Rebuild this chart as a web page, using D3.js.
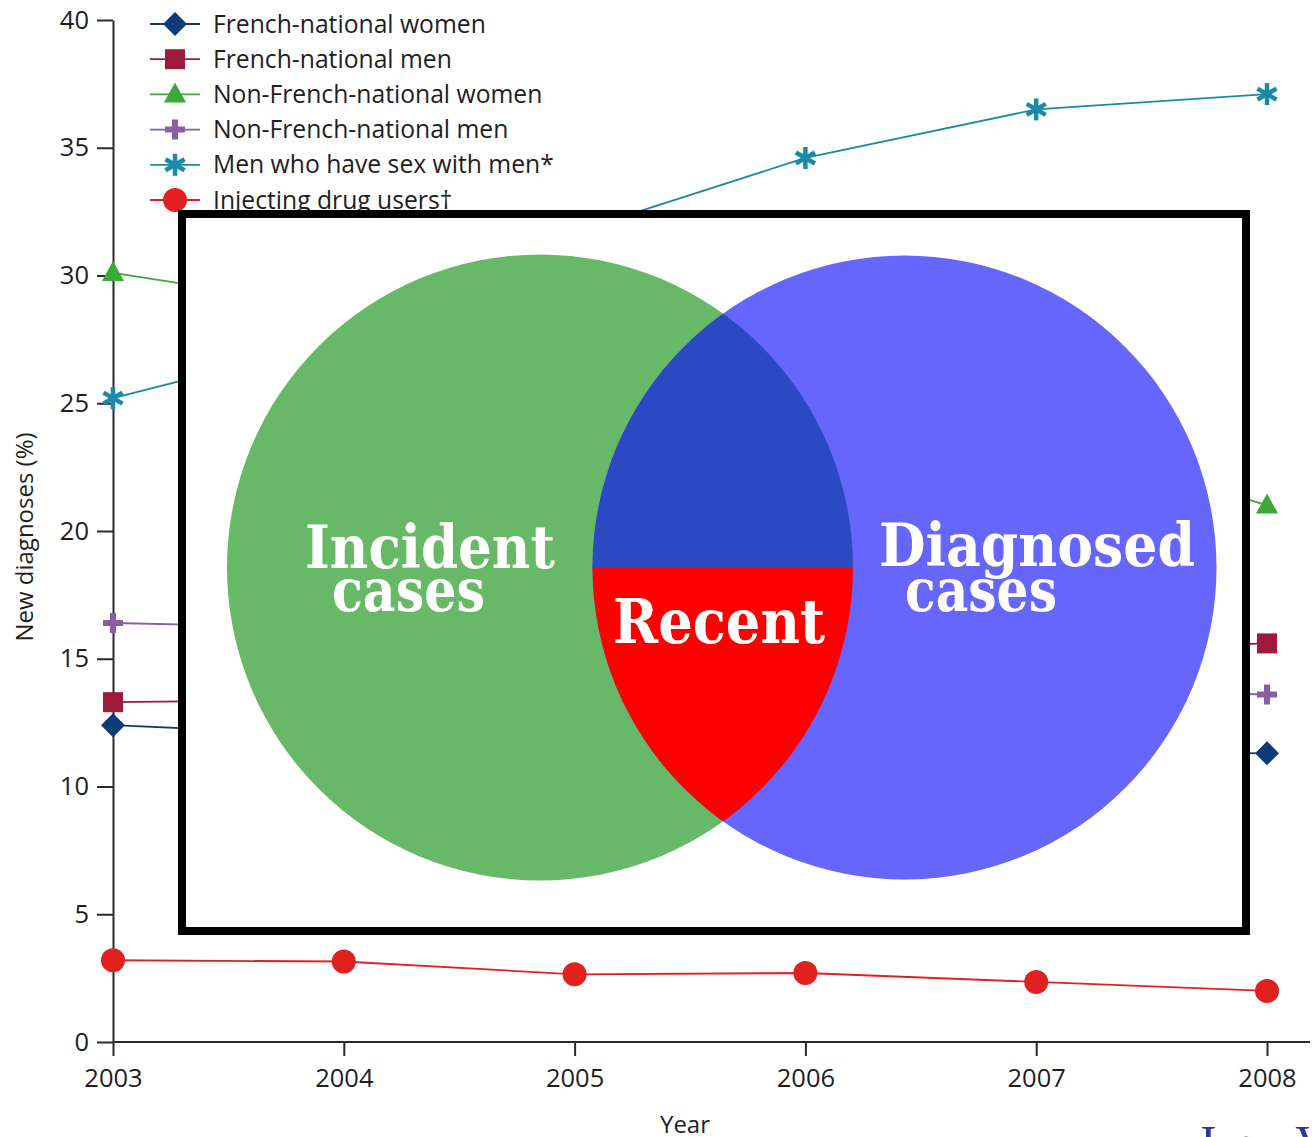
<!DOCTYPE html>
<html>
<head>
<meta charset="utf-8">
<script src="https://cdn.jsdelivr.net/npm/d3@7"></script>
<style>
  html, body { margin: 0; padding: 0; background: #fff; }
  svg { display: block; }
</style>
</head>
<body>
<script>
// ---- data ----
const years = [2003, 2004, 2005, 2006, 2007, 2008];
const frenchWomen    = [12.4, 12.0, 11.8, 11.6, 11.4, 11.3];
const frenchMen      = [13.3, 13.4, 14.0, 14.6, 15.3, 15.6];
const nonFrenchWomen = [30.1, 28.7, 26.5, 24.8, 23.8, 21.0];
const nonFrenchMen   = [16.4, 16.2, 15.6, 15.0, 13.8, 13.6];
const msm            = [25.2, 27.5, 31.7, 34.6, 36.5, 37.1];
const idu            = [3.2, 3.15, 2.65, 2.7, 2.35, 2.0];
const yTicks = [0, 5, 10, 15, 20, 25, 30, 35, 40];
const seriesNames = ["French-national women", "French-national men", "Non-French-national women",
                     "Non-French-national men", "Men who have sex with men*", "Injecting drug users\u2020"];
const seriesValues = [frenchWomen, frenchMen, nonFrenchWomen, nonFrenchMen, msm, idu];
const seriesColors = ["#0d3b7a", "#9e1a3a", "#3aa935", "#8a5ea5", "#1a8aa8", "#e0211f"];
const seriesMarkers = ["diamond", "square", "triangle", "plus", "asterisk", "circle"];
const vennLabels = { left: ["Incident", "cases"], right: ["Diagnosed", "cases"], middle: "Recent" };
const overlayText = "In V";

const W = 1312, H = 1137;
const svg = d3.select("body").append("svg").attr("width", W).attr("height", H);
const FONT = "'Open Sans', 'Noto Sans', sans-serif";
const TXT = "#1e1e1e";

const x = d3.scaleLinear().domain([2003, 2008]).range([113, 1267]);
const y = d3.scaleLinear().domain([0, 40]).range([1042, 20]);

// ---- axes ----
const yAxis = svg.append("g").attr("transform", `translate(${x(2003)},0)`)
  .call(d3.axisLeft(y).tickValues(yTicks).tickSize(16).tickPadding(8).tickSizeOuter(0));
yAxis.select(".domain").attr("stroke", "#2a2a2a").attr("stroke-width", 2);
yAxis.selectAll(".tick line").attr("stroke", "#2a2a2a").attr("stroke-width", 2);
yAxis.selectAll(".tick text").attr("font-family", FONT).attr("font-size", 25.5).attr("fill", TXT);

const xAxis = svg.append("g").attr("transform", `translate(0,${y(0)})`)
  .call(d3.axisBottom(x).tickValues(years).tickFormat(d3.format("d")).tickSize(14).tickPadding(13).tickSizeOuter(0));
xAxis.select(".domain").attr("d", `M${x(2003)},0H1310`).attr("stroke", "#2a2a2a").attr("stroke-width", 2);
xAxis.selectAll(".tick line").attr("stroke", "#2a2a2a").attr("stroke-width", 2);
xAxis.selectAll(".tick text").attr("font-family", FONT).attr("font-size", 25.5).attr("fill", TXT);

svg.append("text").attr("transform", "translate(33,537) rotate(-90)")
  .attr("text-anchor", "middle").attr("font-family", FONT).attr("font-size", 24).attr("fill", TXT)
  .text("New diagnoses (%)");
svg.append("text").attr("x", 685).attr("y", 1133).attr("text-anchor", "middle")
  .attr("font-family", FONT).attr("font-size", 24).attr("fill", TXT).text("Year");

// ---- markers ----
function drawMarker(g, type, color) {
  if (type === "diamond") {
    g.append("path").attr("d", "M0,-12L12,0L0,12L-12,0Z").attr("fill", color);
  } else if (type === "square") {
    g.append("rect").attr("x", -10).attr("y", -10).attr("width", 20).attr("height", 20).attr("fill", color);
  } else if (type === "triangle") {
    g.append("path").attr("d", "M0,-12L11,8L-11,8Z").attr("fill", color);
  } else if (type === "plus") {
    g.append("path").attr("d", "M-10,0H10M0,-10V10").attr("stroke", color).attr("stroke-width", 6);
  } else if (type === "asterisk") {
    [90, 30, 150].forEach(a => {
      const r = a * Math.PI / 180, dx = Math.cos(r) * 11, dy = Math.sin(r) * 11;
      g.append("line").attr("x1", -dx).attr("y1", -dy).attr("x2", dx).attr("y2", dy)
        .attr("stroke", color).attr("stroke-width", 4.5);
    });
  } else if (type === "circle") {
    g.append("circle").attr("r", 12).attr("fill", color);
  }
}

// ---- series ----
const line = d3.line().x((d, i) => x(years[i])).y(d => y(d));
seriesValues.forEach((vals, s) => {
  const g = svg.append("g");
  g.append("path").attr("d", line(vals)).attr("fill", "none")
    .attr("stroke", seriesColors[s]).attr("stroke-width", 1.8);
  vals.forEach((v, i) => {
    drawMarker(g.append("g").attr("transform", `translate(${x(years[i])},${y(v)})`), seriesMarkers[s], seriesColors[s]);
  });
});

// ---- legend ----
const legend = svg.append("g");
seriesNames.forEach((name, s) => {
  const ly = 24 + s * 35.2;
  const g = legend.append("g").attr("transform", `translate(0,${ly})`);
  g.append("line").attr("x1", 150).attr("x2", 200).attr("y1", 0).attr("y2", 0)
    .attr("stroke", seriesColors[s]).attr("stroke-width", 1.8);
  drawMarker(g.append("g").attr("transform", "translate(175,0)"), seriesMarkers[s], seriesColors[s]);
  g.append("text").attr("x", 213).attr("y", 8.5).attr("font-family", FONT).attr("font-size", 24.7)
    .attr("fill", TXT).text(name);
});

// ---- overlay box with Venn diagram ----
svg.append("rect").attr("x", 182).attr("y", 214).attr("width", 1064).attr("height", 717)
  .attr("fill", "#fff").attr("stroke", "#000").attr("stroke-width", 8);

const cL = { x: 540, y: 567.5, r: 313 }, cR = { x: 904.5, y: 567.5, r: 312 };
const defs = svg.append("defs");
defs.append("clipPath").attr("id", "clipL").append("circle").attr("cx", cL.x).attr("cy", cL.y).attr("r", cL.r);
defs.append("clipPath").attr("id", "clipR").append("circle").attr("cx", cR.x).attr("cy", cR.y).attr("r", cR.r);

svg.append("circle").attr("cx", cL.x).attr("cy", cL.y).attr("r", cL.r).attr("fill", "#67b967");
svg.append("circle").attr("cx", cR.x).attr("cy", cR.y).attr("r", cR.r).attr("fill", "#6666fc");
const inter = svg.append("g").attr("clip-path", "url(#clipL)").append("g").attr("clip-path", "url(#clipR)");
inter.append("rect").attr("x", 500).attr("y", 200).attr("width", 500).attr("height", 368).attr("fill", "#2c49c4");
inter.append("rect").attr("x", 500).attr("y", 568).attr("width", 500).attr("height", 400).attr("fill", "#ff0000");

const SERIF = "'DejaVu Serif', 'Liberation Serif', serif";
function vtext(t, xx, yy, w, size) {
  svg.append("text").attr("x", xx).attr("y", yy).attr("font-family", SERIF).attr("font-weight", "bold")
    .attr("font-size", size).attr("fill", "#fff").attr("textLength", w).attr("lengthAdjust", "spacingAndGlyphs")
    .text(t);
}
vtext(vennLabels.left[0], 305, 568, 250, 60);
vtext(vennLabels.left[1], 332, 611, 153, 60);
vtext(vennLabels.middle, 613, 643, 212, 62);
vtext(vennLabels.right[0], 879, 566, 316, 60);
vtext(vennLabels.right[1], 905, 611, 152, 60);

// ---- cropped overlay caption ----
svg.append("text").attr("x", 1200).attr("y", 1160).attr("font-family", "'Liberation Serif', serif")
  .attr("font-size", 50).attr("fill", "#3333a8").attr("letter-spacing", 14).text(overlayText);
</script>
</body>
</html>
